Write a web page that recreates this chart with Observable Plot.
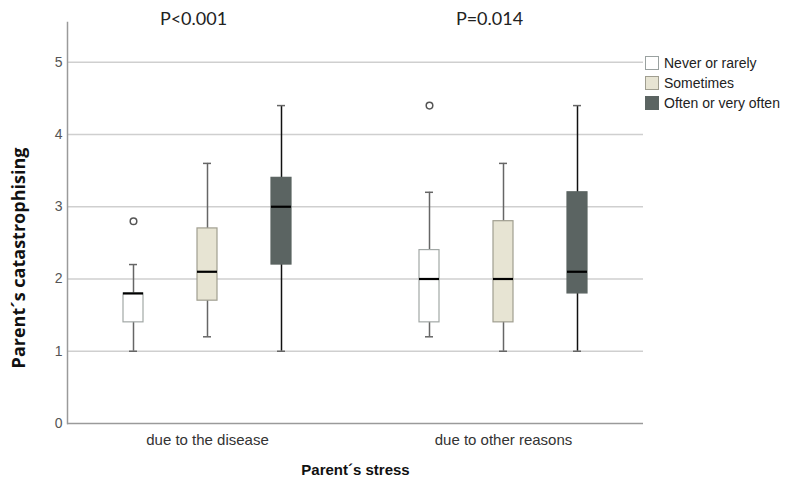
<!DOCTYPE html>
<html>
<head>
<meta charset="utf-8">
<script src="https://cdn.jsdelivr.net/npm/d3@7"></script>
<script src="https://cdn.jsdelivr.net/npm/@observablehq/plot@0.6"></script>
<style>
  html, body { margin: 0; padding: 0; background: #fff; }
  #wrap { position: relative; width: 793px; height: 483px; }
  #legend { position: absolute; left: 645px; top: 53px; font-family: "Liberation Sans", Arial, sans-serif; font-size: 14px; color: #222; }
  .item { display: flex; align-items: center; height: 20px; }
  .sw { width: 14px; height: 14px; box-sizing: border-box; margin-right: 5px; }
</style>
</head>
<body>
<div id="wrap"><div id="legend"></div></div>
<script>
// ---- data ----
const groups = ["due to the disease", "due to other reasons"];
const frequencies = ["Never or rarely", "Sometimes", "Often or very often"];
const whiskerLow  = [[1.0, 1.2, 1.0], [1.2, 1.0, 1.0]];
const q1          = [[1.4, 1.7, 2.2], [1.4, 1.4, 1.8]];
const median      = [[1.8, 2.1, 3.0], [2.0, 2.0, 2.1]];
const q3          = [[1.8, 2.7, 3.4], [2.4, 2.8, 3.2]];
const whiskerHigh = [[2.2, 3.6, 4.4], [3.2, 3.6, 4.4]];
const outlierGroup = ["due to the disease", "due to other reasons"];
const outlierFreq  = ["Never or rarely", "Never or rarely"];
const outlierValue = [2.8, 4.4];
const pValues = ["P<0.001", "P=0.014"];
const yTicks = [0, 1, 2, 3, 4, 5];
const gridValues = [1, 2, 3, 4, 5];

// ---- styles ----
const fills   = ["#ffffff", "#e7e4d3", "#5b6462"];
const strokes = ["#a2a8a6", "#a09e90", "#5b6462"];
const whiskerColors = ["#666666", "#666666", "#111111"];

const keyOf = (g, f) => g + "|" + f;
const rows = groups.flatMap((g, gi) => frequencies.map((f, fi) => ({
  key: keyOf(g, f), group: g, freq: f, fi,
  lo: whiskerLow[gi][fi], q1: q1[gi][fi], med: median[gi][fi], q3: q3[gi][fi], hi: whiskerHigh[gi][fi]
})));
const outliers = outlierValue.map((v, i) => ({key: keyOf(outlierGroup[i], outlierFreq[i]), value: v}));
const xDomain = [...frequencies.map(f => keyOf(groups[0], f)), "gap", ...frequencies.map(f => keyOf(groups[1], f))];
const groupLabels = groups.map((g, i) => ({key: keyOf(g, frequencies[1]), label: g, p: pValues[i]}));

const chart = Plot.plot({
  width: 793,
  height: 483,
  marginLeft: 67,
  marginRight: 150,
  marginTop: 22,
  marginBottom: 60,
  style: {fontFamily: "'Liberation Sans', Arial, sans-serif", background: "white", overflow: "visible"},
  x: {type: "band", domain: xDomain, paddingInner: 0.73, paddingOuter: 0.746, axis: null},
  y: {domain: [0, 5.55], axis: null},
  marks: [
    Plot.ruleY(gridValues, {stroke: "#cfcfcf", strokeWidth: 1.5}),
    Plot.frame({anchor: "left", stroke: "#9a9a9a", strokeWidth: 1.5}),
    Plot.ruleY([0], {stroke: "#9a9a9a", strokeWidth: 1.5}),
    Plot.axisY({ticks: yTicks, tickFormat: "d", tickSize: 0, tickPadding: 5, label: null, fontSize: 14, color: "#555"}),
    ...frequencies.map((f, i) => Plot.ruleX(rows.filter(d => d.freq === f), {x: "key", y1: "lo", y2: "hi", stroke: whiskerColors[i], strokeWidth: 1.5})),
    Plot.tickY(rows, {x: "key", y: "lo", stroke: "#666", strokeWidth: 1.5, insetLeft: 6, insetRight: 6}),
    Plot.tickY(rows, {x: "key", y: "hi", stroke: "#666", strokeWidth: 1.5, insetLeft: 6, insetRight: 6}),
    ...frequencies.map((f, i) => Plot.barY(rows.filter(d => d.freq === f), {x: "key", y1: "q1", y2: "q3", fill: fills[i], stroke: strokes[i], strokeWidth: 1.2})),
    Plot.tickY(rows, {x: "key", y: "med", stroke: "#000", strokeWidth: 2.2}),
    Plot.dot(outliers, {x: "key", y: "value", r: 3.3, stroke: "#555", strokeWidth: 1.5, fill: "white"}),
    Plot.text(groupLabels, {x: "key", text: "label", frameAnchor: "bottom", lineAnchor: "middle", dy: 17, fontSize: 15, fill: "#333"}),
    Plot.text(groupLabels, {x: "key", text: "p", frameAnchor: "top", lineAnchor: "middle", dy: -3, dx: -14, fontSize: 18, fill: "#222", fontFamily: "Lato"}),
    Plot.text(["Parent´s stress"], {frameAnchor: "bottom", lineAnchor: "middle", dy: 47, fontSize: 15, fontWeight: "bold", fill: "#111"}),
    Plot.text(["Parent´s catastrophising"], {frameAnchor: "left", textAnchor: "middle", lineAnchor: "middle", rotate: -90, dx: -48, dy: 35, fontSize: 18, fontWeight: "bold", fill: "#111", fontFamily: "'Open Sans'"})
  ]
});
document.getElementById("wrap").prepend(chart);

const legend = document.getElementById("legend");
frequencies.forEach((f, i) => {
  const item = document.createElement("div");
  item.className = "item";
  const sw = document.createElement("div");
  sw.className = "sw";
  sw.style.background = fills[i];
  sw.style.border = "1px solid " + (i === 0 ? "#9aa1a0" : strokes[i]);
  const t = document.createElement("span");
  t.textContent = f;
  item.append(sw, t);
  legend.append(item);
});
</script>
</body>
</html>
